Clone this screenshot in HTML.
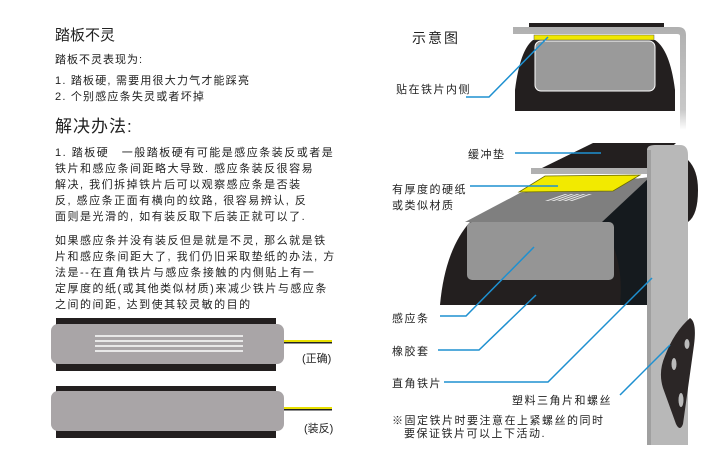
<!DOCTYPE html>
<html><head><meta charset="utf-8"><style>
html,body{margin:0;padding:0;background:#fff;}
svg{display:block;font-family:"Liberation Sans","Noto Sans CJK SC",sans-serif;}
</style></head><body>
<svg width="728" height="464" viewBox="0 0 728 464" xmlns="http://www.w3.org/2000/svg">
<defs>
<linearGradient id="vp" x1="0" x2="0" y1="0" y2="1"><stop offset="0" stop-color="#b0b0b0"/><stop offset="0.8" stop-color="#c8c8c8"/><stop offset="1" stop-color="#fff"/></linearGradient>
</defs>
<g fill="#222">
<text x="55" y="40" font-size="15">踏板不灵</text>
<text x="55" y="63" font-size="11" letter-spacing="1">踏板不灵表现为:</text>
<text x="55" y="84" font-size="11" letter-spacing="1.2">1. 踏板硬, 需要用很大力气才能踩亮</text>
<text x="55" y="100" font-size="11" letter-spacing="1.2">2. 个别感应条失灵或者坏掉</text>
<text x="55" y="132" font-size="17" letter-spacing="1">解决办法:</text>
<g font-size="11" letter-spacing="1.5">
<text x="55" y="156">1. 踏板硬　一般踏板硬有可能是感应条装反或者是</text>
<text x="55" y="172">铁片和感应条间距略大导致. 感应条装反很容易</text>
<text x="55" y="188">解决,  我们拆掉铁片后可以观察感应条是否装</text>
<text x="55" y="204">反,  感应条正面有横向的纹路,  很容易辨认,  反</text>
<text x="55" y="220">面则是光滑的,  如有装反取下后装正就可以了.</text>
<text x="55" y="244">如果感应条并没有装反但是就是不灵, 那么就是铁</text>
<text x="55" y="260">片和感应条间距大了, 我们仍旧采取垫纸的办法, 方</text>
<text x="55" y="276">法是--在直角铁片与感应条接触的内侧贴上有一</text>
<text x="55" y="292">定厚度的纸(或其他类似材质)来减少铁片与感应条</text>
<text x="55" y="308">之间的间距, 达到使其较灵敏的目的</text>
</g>
</g>
<!-- bars -->
<rect x="56" y="318" width="220" height="53" fill="#231f1f"/>
<rect x="51" y="324" width="233" height="40" rx="7" fill="#a9a5a7"/>
<g fill="#e8e8e8"><rect x="95" y="335" width="148" height="2"/><rect x="95" y="340" width="148" height="2"/><rect x="95" y="345" width="148" height="2"/><rect x="95" y="350" width="148" height="2"/></g>
<rect x="284" y="340" width="48" height="2" fill="#e8e000"/><rect x="284" y="342" width="48" height="1.5" fill="#222"/>
<text x="302" y="362" font-size="11" fill="#222">(正确)</text>
<rect x="56" y="386" width="220" height="52" fill="#231f1f"/>
<rect x="51" y="391" width="233" height="40" rx="7" fill="#a9a5a7"/>
<rect x="284" y="407" width="48" height="2" fill="#e8e000"/><rect x="284" y="409" width="48" height="1.5" fill="#222"/>
<text x="304" y="432" font-size="11" fill="#222">(装反)</text>

<!-- right top -->
<text x="412" y="43" font-size="14" fill="#222" letter-spacing="2">示意图</text>
<path d="M533 40 L655 40 Q670 50 675 90 L675 111 L515 111 L515 90 Q520 50 533 40Z" fill="#231f1f"/>
<rect x="535" y="41" width="120" height="50" rx="6" fill="#9a9a9a" stroke="#fff" stroke-width="1"/>
<rect x="529" y="23" width="135" height="4" fill="#231f1f"/>
<path d="M513 27 L678 27 Q686 27 686 35 L686 130 L680 130 L680 36 Q680 34 677 34 L513 34Z" fill="url(#vp)"/>
<rect x="534" y="35" width="120" height="5" fill="#f0e800" stroke="#555" stroke-width="0.5"/>
<text x="396" y="93" font-size="11" fill="#222" letter-spacing="1.5">贴在铁片内侧</text>
<polyline points="466,97 489,97 548,37" fill="none" stroke="#1e90d0" stroke-width="1.5"/>

<!-- right lower -->
<path d="M688 160 Q698 170 698 190 Q698 215 688 222Z" fill="#231f1f"/>
<path d="M470 222 Q445 250 440 305 L648 305 L648 178 Q600 180 520 193Z" fill="#231f1f"/>
<path d="M602 222 L648 178 L648 305 L620 305 Q625 260 602 222Z" fill="#151a1e"/>
<polygon points="465,222 520,193 650,177 602,222" fill="#7f7f7f"/>
<g fill="#e8e8e8"><polygon points="545,201 565,194 568,194 548,201"/><polygon points="551,201 571,194 574,194 554,201"/><polygon points="557,201 577,194 580,194 560,201"/><polygon points="563,201 583,194 586,194 566,201"/><polygon points="569,201 589,194 592,194 572,201"/></g>
<rect x="467" y="222" width="147" height="58" rx="5" fill="#959595"/>
<rect x="531" y="168" width="118" height="6" fill="#b0b0b0"/>
<polygon points="542,168 593,143 676,143 650,168" fill="#231f1f"/>
<path d="M647 150 Q647 145 655 145 L680 145 Q688 145 688 155 L688 445 L647 445Z" fill="#b8b8b8"/>
<rect x="647" y="150" width="4" height="295" fill="#a0a0a0"/>
<polygon points="519,192 545,176 640,175 613,191" fill="#f2ea00" stroke="#6a6a00" stroke-width="0.8"/>
<path d="M690 318 Q697 322 694 345 L683 424 Q680 432 676 424 L663 388 Q658 372 665 356 Q674 332 690 318Z" fill="#2b2626"/>
<g fill="#bbb"><ellipse cx="687" cy="344" rx="2.5" ry="5"/><ellipse cx="674" cy="364" rx="2.5" ry="6"/><ellipse cx="681" cy="400" rx="2.5" ry="7"/></g>

<g font-size="11" fill="#222" letter-spacing="1.5">
<text x="468" y="158">缓冲垫</text>
<text x="392" y="193">有厚度的硬纸</text>
<text x="392" y="209">或类似材质</text>
<text x="392" y="322">感应条</text>
<text x="392" y="355">橡胶套</text>
<text x="392" y="387">直角铁片</text>
<text x="512" y="404">塑料三角片和螺丝</text>
<text x="392" y="424">※固定铁片时要注意在上紧螺丝的同时</text>
<text x="404" y="437">要保证铁片可以上下活动.</text>
</g>
<g fill="none" stroke="#1e90d0" stroke-width="1.5">
<line x1="515" y1="153" x2="601" y2="153"/>
<line x1="470" y1="186" x2="558" y2="186"/>
<polyline points="440,316 466,316 534,247"/>
<polyline points="438,350 479,350 536,295"/>
<polyline points="444,382 548,382 652,278"/>
<line x1="620" y1="395" x2="670" y2="345"/>
</g>
</svg>
</body></html>
